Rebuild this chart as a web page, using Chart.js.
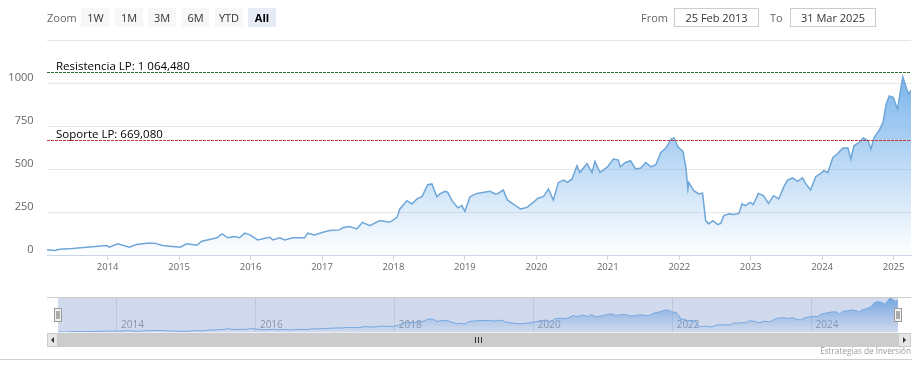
<!DOCTYPE html>
<html>
<head>
<meta charset="utf-8">
<script src="https://cdn.jsdelivr.net/npm/chart.js"></script>
<style>
html,body{margin:0;padding:0;background:#fff;}
#wrap{position:relative;width:921px;height:379px;overflow:hidden;font-family:'Open Sans',sans-serif;}
canvas{position:absolute;left:0;}
#main{top:0;}
#nav{top:290px;}
.lbl{position:absolute;top:8px;height:19px;line-height:19px;font-size:11px;color:#666;}
.btn{position:absolute;top:8px;height:19px;line-height:19px;font-size:11px;color:#333;background:#f7f7f7;text-align:center;}
.btn.sel{background:#e6ebf5;color:#000;font-weight:bold;}
.inp{position:absolute;top:8px;height:17px;line-height:17px;border:1px solid #ccc;font-size:11px;color:#333;text-align:center;background:#fff;}
#credit{position:absolute;right:10px;top:345px;font-size:8.2px;line-height:12px;color:#999;}
#bline{position:absolute;left:0;top:359px;width:912px;height:1px;background:#ccd0da;}
</style>
</head>
<body>
<div id="wrap">
<canvas id="main" width="921" height="290"></canvas>
<canvas id="nav" width="921" height="89"></canvas>
<div id="ui"></div>
<div id="bline"></div>
<div id="credit">Estrategias de Inversión</div>
</div>
<script>
// ---- data ----
const dates = [
"2013-02-25","2013-04-05","2013-05-01","2013-07-05","2013-09-15","2013-12-28",
"2014-01-10","2014-02-20","2014-04-22","2014-05-28","2014-07-19","2014-08-28","2014-10-08","2014-11-29",
"2015-01-05","2015-02-10","2015-04-02","2015-04-27","2015-06-22","2015-07-13","2015-08-08","2015-09-07","2015-10-12","2015-11-06","2015-12-02","2015-12-29",
"2016-02-06","2016-04-08","2016-04-24","2016-05-30","2016-06-24","2016-08-04","2016-10-04","2016-10-20","2016-11-24",
"2017-01-05","2017-02-10","2017-04-01","2017-04-16","2017-05-22","2017-06-28","2017-07-27","2017-09-02","2017-10-23","2017-12-13",
"2018-01-19","2018-02-03","2018-03-11","2018-04-05","2018-05-01","2018-05-27","2018-06-25","2018-07-16","2018-08-11","2018-08-26","2018-09-21","2018-10-05","2018-10-27","2018-11-26","2018-12-16",
"2019-01-01","2019-01-27","2019-03-03","2019-04-03","2019-05-09","2019-06-05","2019-06-20","2019-07-16","2019-08-06","2019-09-16","2019-10-12","2019-11-15","2019-12-16",
"2020-01-11","2020-02-06","2020-03-03","2020-03-28","2020-04-23","2020-05-20","2020-06-08","2020-07-02","2020-07-27","2020-08-11","2020-09-16","2020-10-12","2020-10-27","2020-11-22","2020-12-28",
"2021-01-30","2021-02-24","2021-03-06","2021-04-01","2021-04-27","2021-05-23","2021-06-18","2021-07-14","2021-08-09","2021-09-03","2021-09-29","2021-10-25","2021-11-20","2021-12-05","2021-12-25",
"2022-01-20","2022-02-04","2022-02-14","2022-02-19","2022-03-16","2022-04-11","2022-04-30","2022-05-16","2022-05-31","2022-06-21","2022-07-17","2022-08-01","2022-08-17","2022-09-12","2022-10-07","2022-11-02","2022-11-18","2022-12-04","2022-12-30",
"2023-01-14","2023-02-09","2023-03-07","2023-04-02","2023-04-28","2023-05-24","2023-06-18","2023-07-08","2023-08-03","2023-08-28","2023-09-23","2023-10-08","2023-11-03","2023-11-29","2023-12-25",
"2024-01-09","2024-01-30","2024-02-25","2024-03-21","2024-04-16","2024-05-12","2024-05-27","2024-06-12","2024-07-08","2024-07-29","2024-08-23","2024-09-07","2024-09-23","2024-10-18","2024-11-08","2024-11-24","2024-12-10","2024-12-30",
"2025-01-21","2025-02-17","2025-03-04","2025-03-18","2025-03-31"
];
const prices = [
30,26,34,38,45,55,
45,65,45,61,69,69,55,49,
45,65,57,80,94,100,123,100,107,100,127,117,
88,103,88,100,88,100,100,127,117,
132,142,146,158,165,152,190,171,200,190,
219,268,316,297,326,339,409,413,339,355,370,365,316,274,287,
254,339,358,364,370,355,358,378,320,287,268,277,306,
332,339,384,320,422,436,422,442,519,480,532,480,544,480,509,
558,552,513,538,548,500,506,538,513,525,596,622,674,680,629,
602,509,384,422,374,355,360,200,181,200,177,184,229,239,235,242,297,287,306,
293,358,345,300,345,326,393,436,448,428,448,416,378,455,474,
490,480,567,590,622,622,558,635,654,680,664,616,683,722,771,877,925,916,
848,1035,983,935,958
];
const xTickYears = [2014,2015,2016,2017,2018,2019,2020,2021,2022,2023,2024,2025];
const navTickYears = [2014,2016,2018,2020,2022,2024];
const yTicks = [0,250,500,750,1000,1250];
const levelValues = [1064.48, 669.08];
const levelLabels = ["Resistencia LP: 1 064,480", "Soporte LP: 669,080"];
const levelColors = ["#2d6a2d", "#c0393b"];
const zoomButtons = ["1W","1M","3M","6M","YTD","All"];
const fromDate = "25 Feb 2013";
const toDate = "31 Mar 2025";

// ---- helpers ----
function decYear(s){
  const [y,m,d] = s.split('-').map(Number);
  const t = Date.UTC(y,m-1,d), a = Date.UTC(y,0,1), b = Date.UTC(y+1,0,1);
  return y + (t-a)/(b-a);
}
const points = dates.map((d,i)=>({x:decYear(d), y:prices[i]}));
const xMin = decYear(dates[0]);
const xMax = decYear(dates[dates.length-1]);
const FONT = "'Open Sans', sans-serif";

// ---- UI (range selector & inputs) ----
const ui = document.getElementById('ui');
function addEl(cls, text, left, width){
  const e = document.createElement('div');
  e.className = cls; e.textContent = text;
  e.style.left = left + 'px';
  if (width) e.style.width = width + 'px';
  ui.appendChild(e);
}
addEl('lbl','Zoom',47);
const btnLefts = [81,115,148,182,215,248];
const btnWidths = [29,28,28,27,28,28];
zoomButtons.forEach((b,i)=>addEl('btn' + (b==='All'?' sel':''), b, btnLefts[i], btnWidths[i]));
addEl('lbl','From',641);
addEl('inp',fromDate,674,83);
addEl('lbl','To',770);
addEl('inp',toDate,790,84);

function areaGradient(context){
  const chart = context.chart;
  const {chartArea, scales} = chart;
  if (!chartArea || !scales.y) return 'rgba(124,181,236,0.4)';
  const top = scales.y.getPixelForValue(Math.max(...prices));
  const g = chart.ctx.createLinearGradient(0, top, 0, chartArea.bottom);
  g.addColorStop(0, 'rgba(124,181,236,1)');
  g.addColorStop(1, 'rgba(124,181,236,0)');
  return g;
}

// ---- plot lines plugin ----
const plotLinesPlugin = {
  id: 'plotLines',
  afterDatasetsDraw(chart){
    const {ctx, chartArea:a, scales} = chart;
    ctx.save();
    levelValues.forEach((v,i)=>{
      const y = Math.round(scales.y.getPixelForValue(v)) + 0.5;
      ctx.beginPath();
      ctx.setLineDash([3,1]);
      ctx.lineWidth = 1;
      ctx.strokeStyle = levelColors[i];
      ctx.moveTo(a.left, y); ctx.lineTo(a.right, y);
      ctx.stroke();
      ctx.setLineDash([]);
      ctx.fillStyle = '#000';
      ctx.font = "11.5px " + FONT;
      ctx.textAlign = 'left';
      ctx.textBaseline = 'alphabetic';
      ctx.fillText(levelLabels[i], a.left + 9, y - 3);
    });
    ctx.restore();
  }
};

new Chart(document.getElementById('main'), {
  type: 'line',
  data: { datasets: [{
    data: points,
    borderColor: '#6ea6d8',
    borderWidth: 1.5,
    pointRadius: 0,
    tension: 0,
    fill: 'origin',
    backgroundColor: areaGradient
  }]},
  options: {
    responsive: false,
    animation: false,
    devicePixelRatio: 1,
    layout: { padding: { top: 40, right: 10, left: 0, bottom: 0 } },
    plugins: { legend: {display:false}, tooltip: {enabled:false} },
    scales: {
      x: {
        type: 'linear', min: xMin, max: xMax,
        afterBuildTicks: s => { s.ticks = xTickYears.map(v=>({value:v})); },
        afterFit: s => { s.height = 35; },
        ticks: { callback: v => String(v), color:'#666', font:{size:9.5, family:FONT}, padding:2, maxRotation:0, autoSkip:false },
        grid: { drawOnChartArea:false, drawTicks:true, tickLength:5, color:'#ccd6eb' },
        border: { color:'#ccd6eb' }
      },
      y: {
        min: 0, max: 1250,
        afterBuildTicks: s => { s.ticks = yTicks.map(v=>({value:v})); },
        afterFit: s => { s.width = 47; },
        ticks: { callback: v => (v === 1250 ? '' : String(v)), color:'#666', font:{size:11, family:FONT}, padding:13.5, labelOffset:-5 },
        grid: { color:'#e6e6e6', drawTicks:false },
        border: { display:false }
      }
    }
  },
  plugins: [plotLinesPlugin]
});

// ---- navigator ----
const navPlugin = {
  id: 'navDecor',
  afterDatasetsDraw(chart){
    const {ctx, chartArea:a} = chart;
    ctx.save();
    // mask
    ctx.fillStyle = 'rgba(102,133,194,0.3)';
    ctx.fillRect(a.left, a.top - 0.5, a.right - a.left, a.bottom - a.top + 1);
    // outline
    ctx.strokeStyle = '#cccccc'; ctx.lineWidth = 1;
    ctx.beginPath(); ctx.moveTo(47, a.top - 0.5); ctx.lineTo(911, a.top - 0.5); ctx.stroke();
    // scrollbar
    const sy = a.bottom + 1, sh = 14;
    ctx.fillStyle = '#f2f2f2'; ctx.fillRect(47, sy, 864, sh);
    ctx.fillStyle = '#cccccc'; ctx.fillRect(a.left, sy, a.right - a.left, sh);
    ctx.fillStyle = '#e6e6e6';
    ctx.fillRect(47, sy, a.left - 47, sh);
    ctx.fillRect(a.right, sy, 911 - a.right, sh);
    ctx.strokeStyle = '#cccccc';
    ctx.strokeRect(47.5, sy + 0.5, a.left - 48, sh - 1);
    ctx.strokeRect(a.right + 0.5, sy + 0.5, 911 - a.right - 1, sh - 1);
    ctx.fillStyle = '#333';
    const cy = sy + sh/2;
    const lx = (47 + a.left)/2, rx = (a.right + 911)/2;
    ctx.beginPath(); ctx.moveTo(lx + 1.5, cy - 3); ctx.lineTo(lx + 1.5, cy + 3); ctx.lineTo(lx - 1.5, cy); ctx.closePath(); ctx.fill();
    ctx.beginPath(); ctx.moveTo(rx - 1.5, cy - 3); ctx.lineTo(rx - 1.5, cy + 3); ctx.lineTo(rx + 1.5, cy); ctx.closePath(); ctx.fill();
    // rifles
    const mx = Math.round((a.left + a.right)/2) + 0.5;
    ctx.strokeStyle = '#333';
    [-3,0,3].forEach(d=>{ ctx.beginPath(); ctx.moveTo(mx + d, cy - 3); ctx.lineTo(mx + d, cy + 3); ctx.stroke(); });
    // handles
    [a.left, a.right].forEach(hx=>{
      const x0 = Math.round(hx) - 3.5;
      ctx.fillStyle = '#f2f2f2'; ctx.fillRect(x0, 18, 7, 14);
      ctx.strokeStyle = '#999'; ctx.strokeRect(x0, 18.5, 7, 13);
      ctx.strokeStyle = '#666';
      ctx.beginPath(); ctx.moveTo(x0 + 2.5, 21); ctx.lineTo(x0 + 2.5, 29); ctx.moveTo(x0 + 4.5, 21); ctx.lineTo(x0 + 4.5, 29); ctx.stroke();
    });
    ctx.restore();
  }
};

new Chart(document.getElementById('nav'), {
  type: 'line',
  data: { datasets: [{
    data: points,
    borderColor: '#7cb5ec',
    borderWidth: 1,
    pointRadius: 0,
    tension: 0,
    fill: 'origin',
    backgroundColor: areaGradient
  }]},
  options: {
    responsive: false,
    animation: false,
    devicePixelRatio: 1,
    layout: { padding: { top: 8, right: 23, left: 58, bottom: 0 } },
    plugins: { legend: {display:false}, tooltip: {enabled:false} },
    scales: {
      x: {
        type: 'linear', min: xMin, max: xMax,
        afterBuildTicks: s => { s.ticks = navTickYears.map(v=>({value:v})); },
        afterFit: s => { s.height = 47; },
        ticks: { callback: v => String(v), color:'#999', font:{size:10, family:FONT}, align:'start', labelOffset:4, mirror:true, padding:1, maxRotation:0, autoSkip:false },
        grid: { color:'#e6e6e6', drawTicks:false },
        border: { display:false }
      },
      y: {
        display: false,
        min: Math.min(...prices), max: Math.max(...prices)
      }
    }
  },
  plugins: [navPlugin]
});
</script>
</body>
</html>
